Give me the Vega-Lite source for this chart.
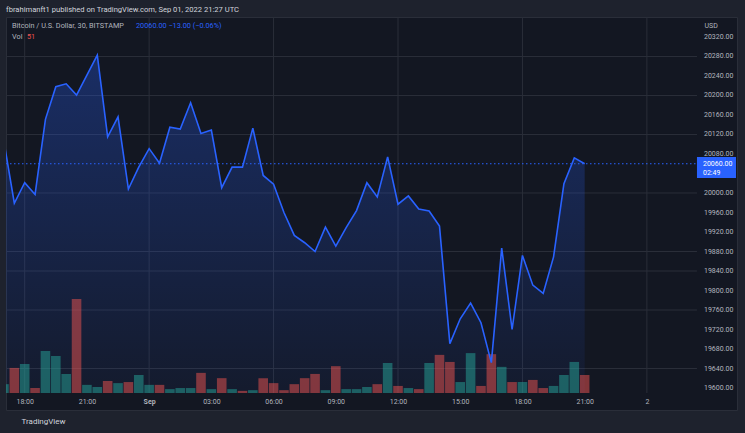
{
  "$schema": "https://vega.github.io/schema/vega-lite/v6.json",
  "width": 731,
  "height": 393,
  "autosize": {"type": "none"},
  "padding": {"left": 6, "top": 17, "right": 8, "bottom": 23},
  "background": "#1e222d",
  "config": {
    "view": {"fill": "#131722", "stroke": "#2a2e39", "strokeWidth": 1},
    "font": "Roboto",
    "axis": {"labelOverlap": false}
  },
  "title": {
    "text": "fbrahimanft1 published on TradingView.com, Sep 01, 2022 21:27 UTC",
    "anchor": "start",
    "frame": "group",
    "offset": 3,
    "fontSize": 7.6,
    "fontWeight": "normal",
    "color": "#d1d4dc",
    "font": "Roboto"
  },
  "datasets": {
    "bars": [
      {"t": "2022-08-31T17:00:00Z", "close": 20105, "vol": 25, "dir": "up"},
      {"t": "2022-08-31T17:30:00Z", "close": 19979, "vol": 71, "dir": "down"},
      {"t": "2022-08-31T18:00:00Z", "close": 20021, "vol": 82, "dir": "up"},
      {"t": "2022-08-31T18:30:00Z", "close": 19997, "vol": 14, "dir": "down"},
      {"t": "2022-08-31T19:00:00Z", "close": 20151, "vol": 119, "dir": "up"},
      {"t": "2022-08-31T19:30:00Z", "close": 20218, "vol": 105, "dir": "up"},
      {"t": "2022-08-31T20:00:00Z", "close": 20224, "vol": 54, "dir": "up"},
      {"t": "2022-08-31T20:30:00Z", "close": 20201, "vol": 266, "dir": "down"},
      {"t": "2022-08-31T21:00:00Z", "close": 20242, "vol": 23, "dir": "up"},
      {"t": "2022-08-31T21:30:00Z", "close": 20283, "vol": 17, "dir": "up"},
      {"t": "2022-08-31T22:00:00Z", "close": 20115, "vol": 34, "dir": "down"},
      {"t": "2022-08-31T22:30:00Z", "close": 20156, "vol": 28, "dir": "up"},
      {"t": "2022-08-31T23:00:00Z", "close": 20008, "vol": 31, "dir": "down"},
      {"t": "2022-08-31T23:30:00Z", "close": 20053, "vol": 51, "dir": "up"},
      {"t": "2022-09-01T00:00:00Z", "close": 20091, "vol": 23, "dir": "up"},
      {"t": "2022-09-01T00:30:00Z", "close": 20061, "vol": 23, "dir": "down"},
      {"t": "2022-09-01T01:00:00Z", "close": 20135, "vol": 11, "dir": "up"},
      {"t": "2022-09-01T01:30:00Z", "close": 20131, "vol": 14, "dir": "up"},
      {"t": "2022-09-01T02:00:00Z", "close": 20185, "vol": 14, "dir": "up"},
      {"t": "2022-09-01T02:30:00Z", "close": 20122, "vol": 57, "dir": "down"},
      {"t": "2022-09-01T03:00:00Z", "close": 20129, "vol": 11, "dir": "up"},
      {"t": "2022-09-01T03:30:00Z", "close": 20011, "vol": 42, "dir": "down"},
      {"t": "2022-09-01T04:00:00Z", "close": 20053, "vol": 11, "dir": "up"},
      {"t": "2022-09-01T04:30:00Z", "close": 20053, "vol": 6, "dir": "down"},
      {"t": "2022-09-01T05:00:00Z", "close": 20133, "vol": 8, "dir": "up"},
      {"t": "2022-09-01T05:30:00Z", "close": 20036, "vol": 42, "dir": "down"},
      {"t": "2022-09-01T06:00:00Z", "close": 20018, "vol": 28, "dir": "down"},
      {"t": "2022-09-01T06:30:00Z", "close": 19960, "vol": 8, "dir": "down"},
      {"t": "2022-09-01T07:00:00Z", "close": 19913, "vol": 25, "dir": "down"},
      {"t": "2022-09-01T07:30:00Z", "close": 19898, "vol": 42, "dir": "down"},
      {"t": "2022-09-01T08:00:00Z", "close": 19880, "vol": 54, "dir": "down"},
      {"t": "2022-09-01T08:30:00Z", "close": 19930, "vol": 8, "dir": "up"},
      {"t": "2022-09-01T09:00:00Z", "close": 19891, "vol": 76, "dir": "down"},
      {"t": "2022-09-01T09:30:00Z", "close": 19929, "vol": 11, "dir": "up"},
      {"t": "2022-09-01T10:00:00Z", "close": 19964, "vol": 11, "dir": "up"},
      {"t": "2022-09-01T10:30:00Z", "close": 20021, "vol": 17, "dir": "up"},
      {"t": "2022-09-01T11:00:00Z", "close": 19992, "vol": 25, "dir": "down"},
      {"t": "2022-09-01T11:30:00Z", "close": 20074, "vol": 85, "dir": "up"},
      {"t": "2022-09-01T12:00:00Z", "close": 19977, "vol": 20, "dir": "down"},
      {"t": "2022-09-01T12:30:00Z", "close": 19994, "vol": 14, "dir": "up"},
      {"t": "2022-09-01T13:00:00Z", "close": 19967, "vol": 11, "dir": "down"},
      {"t": "2022-09-01T13:30:00Z", "close": 19963, "vol": 85, "dir": "up"},
      {"t": "2022-09-01T14:00:00Z", "close": 19932, "vol": 108, "dir": "down"},
      {"t": "2022-09-01T14:30:00Z", "close": 19691, "vol": 88, "dir": "down"},
      {"t": "2022-09-01T15:00:00Z", "close": 19742, "vol": 31, "dir": "up"},
      {"t": "2022-09-01T15:30:00Z", "close": 19774, "vol": 113, "dir": "up"},
      {"t": "2022-09-01T16:00:00Z", "close": 19734, "vol": 20, "dir": "down"},
      {"t": "2022-09-01T16:30:00Z", "close": 19652, "vol": 110, "dir": "down"},
      {"t": "2022-09-01T17:00:00Z", "close": 19887, "vol": 74, "dir": "up"},
      {"t": "2022-09-01T17:30:00Z", "close": 19720, "vol": 31, "dir": "down"},
      {"t": "2022-09-01T18:00:00Z", "close": 19872, "vol": 31, "dir": "up"},
      {"t": "2022-09-01T18:30:00Z", "close": 19811, "vol": 37, "dir": "down"},
      {"t": "2022-09-01T19:00:00Z", "close": 19794, "vol": 14, "dir": "down"},
      {"t": "2022-09-01T19:30:00Z", "close": 19869, "vol": 20, "dir": "up"},
      {"t": "2022-09-01T20:00:00Z", "close": 20019, "vol": 51, "dir": "up"},
      {"t": "2022-09-01T20:30:00Z", "close": 20072, "vol": 88, "dir": "up"},
      {"t": "2022-09-01T21:00:00Z", "close": 20060, "vol": 51, "dir": "down"}
    ],
    "hgrid": [
      {"p": 20280}, {"p": 20200}, {"p": 20120}, {"p": 20000},
      {"p": 19880}, {"p": 19840}, {"p": 19760}, {"p": 19640}
    ],
    "vgrid": [
      {"t": "2022-08-31T18:00:00Z"}, {"t": "2022-09-01T00:00:00Z"},
      {"t": "2022-09-01T06:00:00Z"}, {"t": "2022-09-01T12:00:00Z"},
      {"t": "2022-09-01T18:00:00Z"}, {"t": "2022-09-02T00:00:00Z"}
    ],
    "yticks": [
      {"v": 19600}, {"v": 19640}, {"v": 19680}, {"v": 19720}, {"v": 19760}, {"v": 19800},
      {"v": 19840}, {"v": 19880}, {"v": 19920}, {"v": 19960}, {"v": 20000}, {"v": 20080},
      {"v": 20120}, {"v": 20160}, {"v": 20200}, {"v": 20240}, {"v": 20280}, {"v": 20320}
    ]
  },
  "data": {"name": "bars"},
  "layer": [
    {
      "layer": [
        {
          "data": {"name": "hgrid"},
          "mark": {"type": "rule", "color": "#2a2e39", "strokeWidth": 1},
          "encoding": {
            "x": {"datum": {"year": 2022, "month": 8, "date": 31, "hours": 17, "minutes": 5, "seconds": 54, "utc": true}, "type": "temporal"},
            "x2": {"datum": {"year": 2022, "month": 9, "date": 2, "hours": 2, "minutes": 24, "seconds": 54, "utc": true}},
            "y": {"field": "p", "type": "quantitative", "scale": {"domain": [19554.9, 20361], "nice": false, "zero": false, "padding": 0}, "axis": null}
          }
        },
        {
          "data": {"name": "vgrid"},
          "mark": {"type": "rule", "color": "#2a2e39", "strokeWidth": 1},
          "encoding": {
            "x": {"field": "t", "type": "temporal"},
            "y": {"datum": 20361, "type": "quantitative", "axis": null},
            "y2": {"datum": 19589.7}
          }
        },
        {
          "mark": {
            "type": "area",
            "clip": true,
            "color": {
              "gradient": "linear",
              "x1": 0, "y1": 0, "x2": 0, "y2": 1,
              "stops": [
                {"offset": 0, "color": "rgba(41,98,255,0.30)"},
                {"offset": 1, "color": "rgba(41,98,255,0.05)"}
              ]
            }
          },
          "encoding": {
            "x": {"field": "t", "type": "temporal"},
            "y": {"field": "close", "type": "quantitative", "axis": null},
            "y2": {"datum": 19589.7}
          }
        }
      ]
    },
    {
      "mark": {"type": "bar", "clip": true, "size": 9.6},
      "encoding": {
        "x": {"field": "t", "type": "temporal"},
        "y": {"field": "vol", "type": "quantitative", "scale": {"domain": [-48.2, 1065.3], "nice": false, "zero": false, "padding": 0}, "axis": null},
        "y2": {"datum": 0},
        "color": {"field": "dir", "type": "nominal", "scale": {"domain": ["up", "down"], "range": ["rgba(38,166,154,0.5)", "rgba(239,83,80,0.5)"]}, "legend": null}
      }
    },
    {
      "layer": [
        {
          "mark": {"type": "line", "clip": true, "color": "#2962ff", "strokeWidth": 1.6},
          "encoding": {
            "x": {
              "field": "t", "type": "temporal",
              "scale": {"type": "utc", "padding": 0, "domain": [{"year": 2022, "month": 8, "date": 31, "hours": 17, "minutes": 5, "seconds": 54, "utc": true}, {"year": 2022, "month": 9, "date": 2, "hours": 4, "minutes": 20, "seconds": 42, "utc": true}]},
              "axis": {
                "orient": "bottom",
                "offset": -17,
                "values": [
                  {"year": 2022, "month": 8, "date": 31, "hours": 18, "utc": true},
                  {"year": 2022, "month": 8, "date": 31, "hours": 21, "utc": true},
                  {"year": 2022, "month": 9, "date": 1, "hours": 0, "utc": true},
                  {"year": 2022, "month": 9, "date": 1, "hours": 3, "utc": true},
                  {"year": 2022, "month": 9, "date": 1, "hours": 6, "utc": true},
                  {"year": 2022, "month": 9, "date": 1, "hours": 9, "utc": true},
                  {"year": 2022, "month": 9, "date": 1, "hours": 12, "utc": true},
                  {"year": 2022, "month": 9, "date": 1, "hours": 15, "utc": true},
                  {"year": 2022, "month": 9, "date": 1, "hours": 18, "utc": true},
                  {"year": 2022, "month": 9, "date": 1, "hours": 21, "utc": true},
                  {"year": 2022, "month": 9, "date": 2, "hours": 0, "utc": true}
                ],
                "labelExpr": "utchours(datum.value) == 0 ? (utcdate(datum.value) == 1 ? 'Sep' : '' + utcdate(datum.value)) : utcFormat(datum.value, '%H:%M')",
                "labelFontSize": 7,
                "labelColor": "#b2b5be",
                "labelPadding": 4,
                "labelFontWeight": {"condition": {"test": "utchours(datum.value) == 0 && utcdate(datum.value) == 1", "value": "bold"}, "value": "normal"},
                "labelOverlap": false,
                "labelFlush": false,
                "ticks": false,
                "domain": false,
                "grid": false,
                "title": "TradingView",
                "titleX": 15,
                "titleY": 28,
                "titleAlign": "left",
                "titleAnchor": "start",
                "titleBaseline": "middle",
                "titleFontSize": 8,
                "titleFontWeight": "normal",
                "titleColor": "#d1d4dc"
              }
            },
            "y": {
              "field": "close", "type": "quantitative",
              "scale": {"domain": [19554.9, 20361], "nice": false, "zero": false, "padding": 0},
              "axis": {
                "orient": "right",
                "offset": -40,
                "labels": false,
                "ticks": false,
                "domain": false,
                "grid": false,
                "title": "USD",
                "titleAngle": 0,
                "titleAlign": "left",
                "titleBaseline": "middle",
                "titleX": 7,
                "titleY": 8,
                "titleFontSize": 7,
                "titleFontWeight": "normal",
                "titleColor": "#b2b5be"
              }
            }
          }
        },
        {
          "data": {"name": "yticks"},
          "mark": {"type": "text", "color": "#b2b5be", "fontSize": 7, "align": "left", "baseline": "middle"},
          "encoding": {
            "x": {"datum": {"year": 2022, "month": 9, "date": 2, "hours": 2, "minutes": 45, "seconds": 12, "utc": true}, "type": "temporal"},
            "y": {"field": "v", "type": "quantitative"},
            "text": {"field": "v", "type": "quantitative", "format": ".2f"}
          }
        },
        {
          "data": {"values": [{"last": 20060}]},
          "mark": {"type": "rule", "color": "#2962ff", "strokeWidth": 1, "strokeDash": [1.5, 2.5]},
          "encoding": {
            "x": {"datum": {"year": 2022, "month": 8, "date": 31, "hours": 17, "minutes": 5, "seconds": 54, "utc": true}, "type": "temporal"},
            "x2": {"datum": {"year": 2022, "month": 9, "date": 2, "hours": 2, "minutes": 24, "seconds": 54, "utc": true}},
            "y": {"field": "last", "type": "quantitative"}
          }
        },
        {
          "data": {"values": [{"last": 20060}]},
          "mark": {"type": "rect", "color": "#2962ff"},
          "encoding": {
            "x": {"datum": {"year": 2022, "month": 9, "date": 2, "hours": 2, "minutes": 24, "seconds": 54, "utc": true}, "type": "temporal"},
            "x2": {"datum": {"year": 2022, "month": 9, "date": 2, "hours": 4, "minutes": 17, "seconds": 48, "utc": true}},
            "y": {"datum": 20073.8, "type": "quantitative"},
            "y2": {"datum": 20030.7}
          }
        },
        {
          "data": {"values": [{"last": 20060}]},
          "mark": {"type": "text", "color": "#ffffff", "fontSize": 7, "align": "left", "baseline": "middle"},
          "encoding": {
            "x": {"datum": {"year": 2022, "month": 9, "date": 2, "hours": 2, "minutes": 42, "seconds": 18, "utc": true}, "type": "temporal"},
            "y": {"field": "last", "type": "quantitative"},
            "text": {"field": "last", "type": "quantitative", "format": ".2f"}
          }
        },
        {
          "data": {"values": [{"countdown": "02:49"}]},
          "mark": {"type": "text", "color": "#ffffff", "fontSize": 7, "align": "left", "baseline": "middle"},
          "encoding": {
            "x": {"datum": {"year": 2022, "month": 9, "date": 2, "hours": 2, "minutes": 42, "seconds": 18, "utc": true}, "type": "temporal"},
            "y": {"datum": 20041, "type": "quantitative"},
            "text": {"field": "countdown", "type": "nominal"}
          }
        },
        {
          "data": {"values": [{"label": "Bitcoin / U.S. Dollar, 30, BITSTAMP"}]},
          "mark": {"type": "text", "color": "#b2b5be", "fontSize": 7.3, "align": "left", "baseline": "middle"},
          "encoding": {
            "x": {"datum": {"year": 2022, "month": 8, "date": 31, "hours": 17, "minutes": 23, "seconds": 16, "utc": true}, "type": "temporal"},
            "y": {"datum": 20342.6, "type": "quantitative"},
            "text": {"field": "label", "type": "nominal"}
          }
        },
        {
          "data": {"values": [{"label": "20060.00  −13.00 (−0.06%)"}]},
          "mark": {"type": "text", "color": "#2962ff", "fontSize": 7.3, "align": "left", "baseline": "middle"},
          "encoding": {
            "x": {"datum": {"year": 2022, "month": 8, "date": 31, "hours": 23, "minutes": 22, "utc": true}, "type": "temporal"},
            "y": {"datum": 20342.6, "type": "quantitative"},
            "text": {"field": "label", "type": "nominal"}
          }
        },
        {
          "data": {"values": [{"label": "Vol"}]},
          "mark": {"type": "text", "color": "#b2b5be", "fontSize": 7.3, "align": "left", "baseline": "middle"},
          "encoding": {
            "x": {"datum": {"year": 2022, "month": 8, "date": 31, "hours": 17, "minutes": 23, "seconds": 16, "utc": true}, "type": "temporal"},
            "y": {"datum": 20320, "type": "quantitative"},
            "text": {"field": "label", "type": "nominal"}
          }
        },
        {
          "data": {"values": [{"label": "51"}]},
          "mark": {"type": "text", "color": "#ef5350", "fontSize": 7.3, "align": "left", "baseline": "middle"},
          "encoding": {
            "x": {"datum": {"year": 2022, "month": 8, "date": 31, "hours": 18, "minutes": 6, "seconds": 39, "utc": true}, "type": "temporal"},
            "y": {"datum": 20320, "type": "quantitative"},
            "text": {"field": "label", "type": "nominal"}
          }
        }
      ]
    }
  ],
  "resolve": {"scale": {"y": "independent"}}
}
